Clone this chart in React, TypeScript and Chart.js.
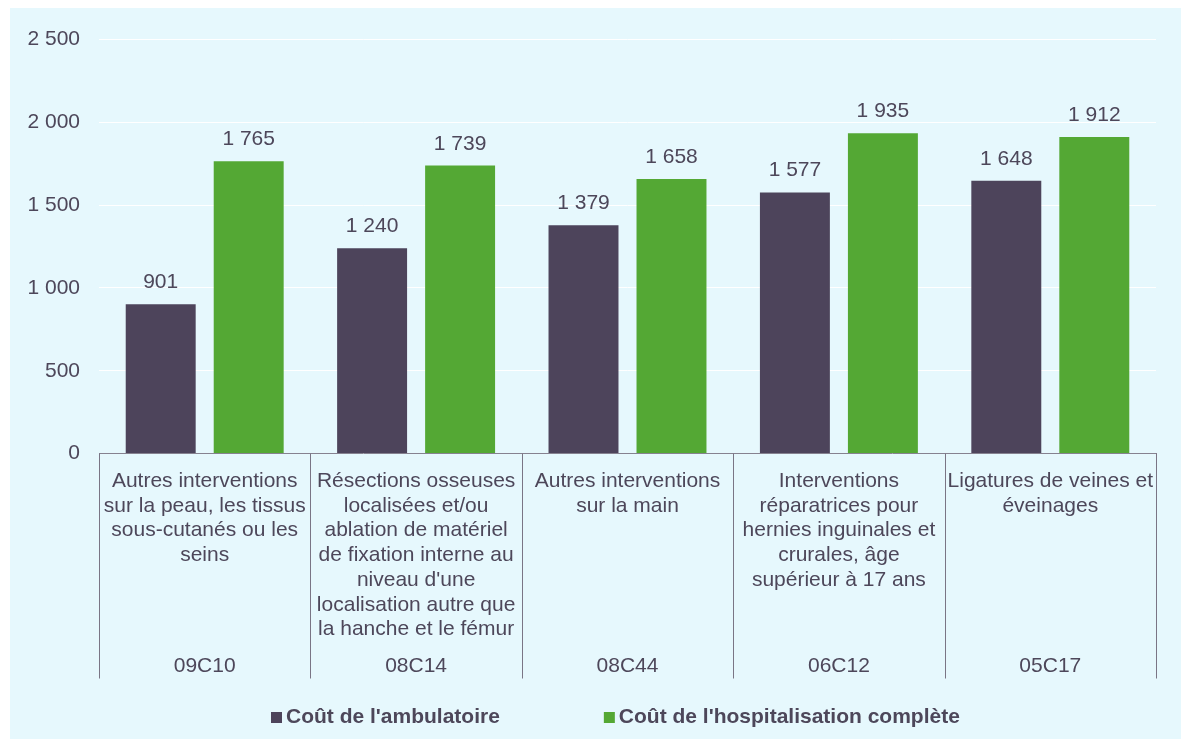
import React, { useEffect, useRef } from "react";
import { Chart, registerables } from "chart.js";

Chart.register(...registerables);

const codes = ["09C10", "08C14", "08C44", "06C12", "05C17"];
const descriptions: string[][] = [
  ["Autres interventions", "sur la peau, les tissus", "sous-cutanés ou les", "seins"],
  [
    "Résections osseuses",
    "localisées et/ou",
    "ablation de matériel",
    "de fixation interne au",
    "niveau d'une",
    "localisation autre que",
    "la hanche et le fémur",
  ],
  ["Autres interventions", "sur la main"],
  ["Interventions", "réparatrices pour", "hernies inguinales et", "crurales, âge", "supérieur à 17 ans"],
  ["Ligatures de veines et", "éveinages"],
];
const seriesNames = ["Coût de l'ambulatoire", "Coût de l'hospitalisation complète"];
const ambulatoire = [901, 1240, 1379, 1577, 1648];
const hospitalisation = [1765, 1739, 1658, 1935, 1912];
const yMin = 0;
const yMax = 2500;
const yStep = 500;

const FONT = "'Liberation Sans', Arial, sans-serif";
const TEXT = "#4D475A";
const DARK = "#4D445B";
const GREEN = "#54A834";
const BG = "#E6F8FD";
const SEP = "#7A7585";

const fmt = (v: number) => String(v).replace(/\B(?=(\d{3})+(?!\d))/g, " ");

const overlay = {
  id: "overlay",
  afterDatasetsDraw(chart: any) {
    const ctx = chart.ctx;
    ctx.save();
    ctx.font = `21px ${FONT}`;
    ctx.fillStyle = TEXT;
    ctx.textAlign = "center";
    ctx.textBaseline = "alphabetic";
    chart.data.datasets.forEach((ds: any, di: number) => {
      const meta = chart.getDatasetMeta(di);
      meta.data.forEach((bar: any, i: number) => {
        ctx.fillText(fmt(ds.data[i]), bar.x, bar.y - 16);
      });
    });
    ctx.restore();
  },
  afterDraw(chart: any) {
    const ctx = chart.ctx;
    const xs = chart.scales.x;
    const area = chart.chartArea;
    const n = codes.length;
    const half = (xs.getPixelForValue(1) - xs.getPixelForValue(0)) / 2;
    ctx.save();
    // separators
    ctx.strokeStyle = SEP;
    ctx.lineWidth = 1;
    for (let i = 0; i <= n; i++) {
      const x = Math.round(i < n ? xs.getPixelForValue(i) - half : xs.getPixelForValue(n - 1) + half) + 0.5;
      ctx.beginPath();
      ctx.moveTo(x, area.bottom);
      ctx.lineTo(x, area.bottom + 225);
      ctx.stroke();
    }
    // labels
    ctx.font = `21px ${FONT}`;
    ctx.fillStyle = TEXT;
    ctx.textAlign = "center";
    ctx.textBaseline = "alphabetic";
    for (let i = 0; i < n; i++) {
      const cx = xs.getPixelForValue(i);
      descriptions[i].forEach((line, li) => {
        ctx.fillText(line, cx, area.bottom + 33.5 + li * 24.7);
      });
      ctx.fillText(codes[i], cx, area.bottom + 218.5);
    }
    // legend
    ctx.font = `bold 21px ${FONT}`;
    ctx.textAlign = "left";
    let x = 261;
    const baseY = 715;
    chart.data.datasets.forEach((ds: any) => {
      ctx.fillStyle = ds.backgroundColor;
      ctx.fillRect(x, baseY - 11, 11, 11);
      ctx.fillStyle = TEXT;
      ctx.fillText(ds.label, x + 15, baseY);
      x += 15 + ctx.measureText(ds.label).width + 104;
    });
    ctx.restore();
  },
};

export default function App() {
  const ref = useRef<HTMLCanvasElement | null>(null);
  useEffect(() => {
    if (!ref.current) return;
    const chart = new Chart(ref.current, {
      type: "bar",
      data: {
        labels: codes,
        datasets: [
          {
            label: seriesNames[0],
            data: ambulatoire,
            backgroundColor: DARK,
            categoryPercentage: 0.8325,
            barPercentage: 0.795,
          },
          {
            label: seriesNames[1],
            data: hospitalisation,
            backgroundColor: GREEN,
            categoryPercentage: 0.8325,
            barPercentage: 0.795,
          },
        ],
      },
      options: {
        animation: false,
        responsive: false,
        maintainAspectRatio: false,
        layout: { padding: { top: 29, right: 25, bottom: 0, left: 0 } },
        plugins: {
          legend: { display: false },
          tooltip: { enabled: false },
        },
        scales: {
          x: {
            ticks: { display: false },
            grid: { display: false },
            border: { display: true, color: "#868290", width: 1 },
            afterFit: (s: any) => {
              s.height = 285.5;
            },
          },
          y: {
            min: yMin,
            max: yMax,
            ticks: {
              stepSize: yStep,
              padding: 19,
              color: TEXT,
              font: { family: FONT, size: 21 },
              callback: (v: any) => fmt(Number(v)),
            },
            grid: { color: "#FFFFFF", lineWidth: 1, drawTicks: false },
            border: { display: false },
            afterFit: (s: any) => {
              s.width = 89;
            },
          },
        },
      },
      plugins: [overlay],
    });
    return () => chart.destroy();
  }, []);
  return (
    <div
      style={{
        position: "absolute",
        left: 10,
        top: 8,
        width: 1171,
        height: 731,
        background: BG,
      }}
    >
      <canvas ref={ref} width={1171} height={731} style={{ display: "block" }} />
    </div>
  );
}
